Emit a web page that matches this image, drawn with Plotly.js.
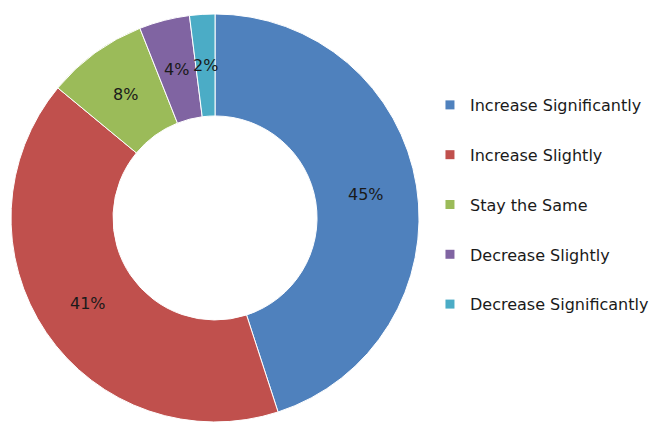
<!DOCTYPE html>
<html>
<head>
<meta charset="utf-8">
<script src="https://cdn.plot.ly/plotly-3.0.1.min.js"></script>
<style>html,body{margin:0;padding:0;background:#fff;}#chart{width:662px;height:423px;}</style>
</head>
<body>
<div id="chart"></div>
<script>
const categories = ["Increase Significantly", "Increase Slightly", "Stay the Same", "Decrease Slightly", "Decrease Significantly"];
const values = [45, 41, 8, 4, 2];
const colors = ["#4F81BD", "#C0504D", "#9BBB59", "#8064A2", "#4BACC6"];
const FONT = "DejaVu Sans, sans-serif";

const W = 662, H = 423;
const domX = [0.0166, 0.633], domY = [0.0024, 0.967];
const HOLE = 0.5;

const pie = {
  type: "pie",
  labels: categories,
  values: values,
  sort: false,
  direction: "clockwise",
  rotation: 0,
  hole: HOLE,
  marker: {colors: colors, line: {color: "#ffffff", width: 1}},
  textinfo: "none",
  showlegend: false,
  domain: {x: domX, y: domY},
  hoverinfo: "none"
};

// percentage labels placed at the middle of the ring, at each slice's mid-angle
const total = values.reduce((a, b) => a + b, 0);
const cxPx = (domX[0] + domX[1]) / 2 * W;
const cyPx = (domY[0] + domY[1]) / 2 * H;
const R = Math.min((domX[1] - domX[0]) * W, (domY[1] - domY[0]) * H) / 2;
const rMid = R * (1 + HOLE) / 2;
let cum = 0;
const annotations = values.map((v) => {
  const mid = (cum + v / 2) / total;
  cum += v;
  const ang = mid * 2 * Math.PI;
  const px = cxPx + rMid * Math.sin(ang);
  const py = cyPx + rMid * Math.cos(ang);
  return {
    xref: "paper", yref: "paper",
    x: px / W, y: py / H,
    xanchor: "center", yanchor: "middle",
    showarrow: false,
    text: Math.round(v / total * 100) + "%",
    font: {family: FONT, size: 16, color: "#1a1a1a"}
  };
});

const legendTraces = categories.map((c, i) => ({
  type: "scatter",
  mode: "markers",
  x: [null], y: [null],
  name: c,
  legendgroup: "g" + i,
  marker: {symbol: "square", size: 9, color: colors[i]},
  showlegend: true,
  hoverinfo: "none"
}));

const layout = {
  width: W, height: H,
  margin: {l: 0, r: 0, t: 0, b: 0},
  paper_bgcolor: "#ffffff",
  plot_bgcolor: "rgba(0,0,0,0)",
  font: {family: FONT, size: 16, color: "#1a1a1a"},
  xaxis: {visible: false},
  yaxis: {visible: false},
  annotations: annotations,
  legend: {
    x: 0.6495, y: 0.792, xanchor: "left", yanchor: "top",
    font: {family: FONT, size: 16, color: "#1a1a1a"},
    tracegroupgap: 26,
    itemwidth: 30,
    bgcolor: "rgba(0,0,0,0)"
  }
};

Plotly.newPlot("chart", [pie].concat(legendTraces), layout, {displayModeBar: false, staticPlot: true});
</script>
</body>
</html>
